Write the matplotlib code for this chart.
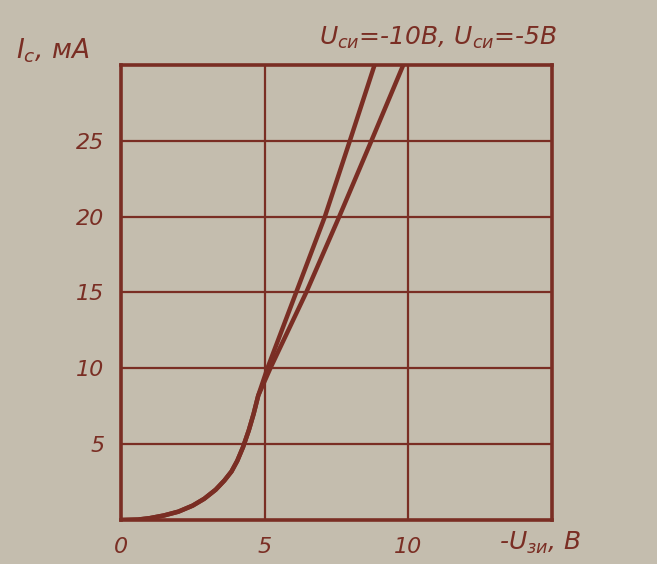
import matplotlib
matplotlib.use("Agg")
import matplotlib.pyplot as plt

# Data
# shared lower part (both curves overlap)
x_common = [0.0, 0.6, 1.0, 1.5, 2.0, 2.5, 2.9, 3.3, 3.6, 3.85, 4.05, 4.25, 4.45, 4.62, 4.78]
y_common = [0.0, 0.03, 0.12, 0.3, 0.55, 0.95, 1.4, 2.0, 2.6, 3.2, 3.9, 4.8, 5.9, 7.0, 8.2]
# U_си = -10 В
x_u10 = [5.1, 6.1, 7.1, 7.97, 8.83]
y_u10 = [10.0, 15.0, 20.0, 25.0, 30.0]
# U_си = -5 В
x_u5 = [5.2, 6.45, 7.6, 8.72, 9.83]
y_u5 = [10.0, 15.0, 20.0, 25.0, 30.0]

x_ticks = [0, 5, 10]
y_ticks = [5, 10, 15, 20, 25]

bg = "#c4bdae"
ink = "#7a2e24"

plt.rcParams['font.family'] = ['DejaVu Sans']
plt.rcParams['mathtext.fontset'] = 'dejavusans'

fig = plt.figure(figsize=(6.57, 5.64), dpi=100, facecolor=bg)
ax = fig.add_axes([0.184, 0.078, 0.656, 0.807], facecolor=bg)

ax.plot(x_common + x_u10, y_common + y_u10, color=ink, lw=3.2,
        solid_joinstyle='round', solid_capstyle='butt')
ax.plot(x_common + x_u5, y_common + y_u5, color=ink, lw=3.2,
        solid_joinstyle='round', solid_capstyle='butt')

ax.set_xlim(0, 15)
ax.set_ylim(0, 30)
for v in [5, 10]:
    ax.axvline(v, color=ink, lw=1.6, zorder=0)
for v in y_ticks:
    ax.axhline(v, color=ink, lw=1.6, zorder=0)

for s in ax.spines.values():
    s.set_color(ink)
    s.set_linewidth(2.6)

ax.set_xticks(x_ticks)
ax.set_yticks(y_ticks)
ax.tick_params(length=0, colors=ink, labelsize=16, pad=12)
for lab in ax.get_xticklabels() + ax.get_yticklabels():
    lab.set_fontstyle('italic')
    lab.set_color(ink)

fig.text(0.025, 0.885, r'$I_{с}$, мА', color=ink, fontsize=19, style='italic',
         ha='left', va='bottom')
fig.text(0.485, 0.91, r'$U_{си}$=-10В, $U_{си}$=-5В', color=ink, fontsize=18,
         style='italic', ha='left', va='bottom')
fig.text(0.76, 0.015, r'-$U_{зи}$, В', color=ink, fontsize=18, style='italic',
         ha='left', va='bottom')

fig.savefig("out.png", dpi=100, facecolor=bg)
